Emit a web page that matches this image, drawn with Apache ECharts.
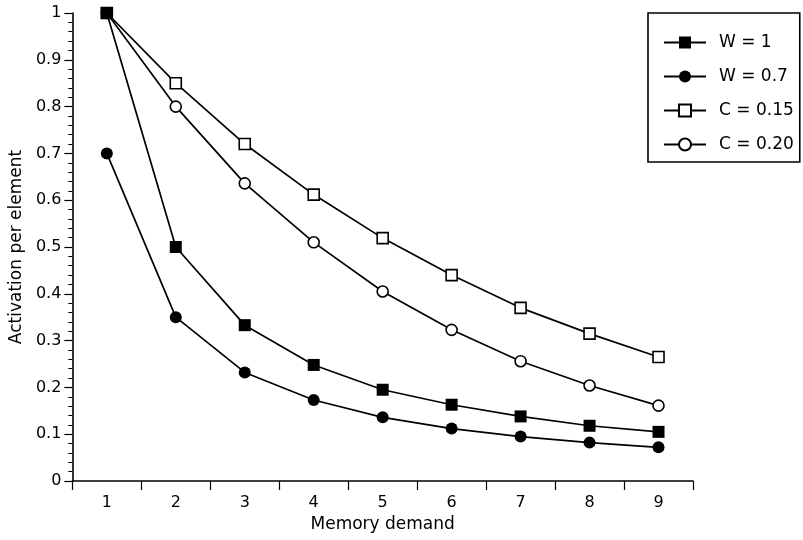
<!DOCTYPE html>
<html>
<head>
<meta charset="utf-8">
<script src="https://cdn.jsdelivr.net/npm/echarts@6/dist/echarts.min.js"></script>
<style>
html,body{margin:0;padding:0;background:#fff;}
#chart{width:803px;height:540px;}
</style>
</head>
<body>
<div id="chart"></div>
<script>
var categories = ['1','2','3','4','5','6','7','8','9'];
var seriesNames = ['W = 1','W = 0.7','C = 0.15','C = 0.20'];
var w1   = [1.00, 0.50, 0.333, 0.248, 0.195, 0.163, 0.138, 0.118, 0.105];
var w07  = [0.70, 0.35, 0.232, 0.173, 0.136, 0.112, 0.095, 0.082, 0.072];
var c015 = [1.00, 0.85, 0.720, 0.612, 0.519, 0.440, 0.370, 0.315, 0.265];
var c020 = [1.00, 0.80, 0.636, 0.510, 0.405, 0.323, 0.256, 0.204, 0.161];
var yTicks = {min:0, max:1, interval:0.1};

var FONT = 'DejaVu Sans';
var chart = echarts.init(document.getElementById('chart'), null, {renderer:'canvas'});

function mk(name, data, symbol, filled, size, z){
  return {
    name: name, type: 'line', data: data, z: z,
    symbol: symbol, symbolSize: size,
    lineStyle: {color:'#000', width:1.7},
    itemStyle: filled ? {color:'#000', borderColor:'#000', borderWidth:0}
                      : {color:'#fff', borderColor:'#000', borderWidth:1.6},
    emphasis: {disabled:true},
    animation: false
  };
}

chart.setOption({
  animation: false,
  backgroundColor: '#fff',
  textStyle: {fontFamily: FONT, color:'#000'},
  grid: {left:67, top:13, right:110, bottom:59, containLabel:false},
  legend: {
    orient:'vertical', left:648, top:13,
    backgroundColor:'#fff', borderColor:'#000', borderWidth:1.6,
    padding:[21, 6, 9, 15],
    itemWidth:42, itemHeight:15, itemGap:17,
    textStyle:{fontFamily:FONT, fontSize:17, color:'#000', padding:[0,0,0,8]},
    data: seriesNames,
    z: 10
  },
  xAxis: {
    type:'category', data: categories, boundaryGap:true,
    name:'Memory demand', nameLocation:'middle', nameGap:31,
    nameTextStyle:{fontFamily:FONT, fontSize:17, color:'#000'},
    axisLine:{lineStyle:{color:'#000', width:1.6}},
    axisTick:{show:true, length:9, inside:false, alignWithLabel:false, lineStyle:{color:'#000', width:1.2}},
    axisLabel:{fontFamily:FONT, fontSize:16, color:'#000', margin:14},
    splitLine:{show:false}
  },
  yAxis: {
    type:'value', min:yTicks.min, max:yTicks.max, interval:yTicks.interval,
    name:'Activation per element', nameLocation:'middle', nameGap:43,
    nameTextStyle:{fontFamily:FONT, fontSize:17, color:'#000'},
    axisLine:{show:true, lineStyle:{color:'#000', width:1.6}},
    axisTick:{show:true, length:8, inside:false, lineStyle:{color:'#000', width:1.2}},
    minorTick:{show:true, splitNumber:5, length:4, lineStyle:{color:'#000', width:1}},
    axisLabel:{fontFamily:FONT, fontSize:16, color:'#000', margin:11},
    splitLine:{show:false}
  },
  series: [
    mk(seriesNames[0], w1, 'rect', true, 12, 6),
    mk(seriesNames[1], w07, 'circle', true, 12, 5),
    mk(seriesNames[2], c015, 'rect', false, 11, 3),
    mk(seriesNames[3], c020, 'circle', false, 11, 4)
  ]
});
</script>
</body>
</html>
